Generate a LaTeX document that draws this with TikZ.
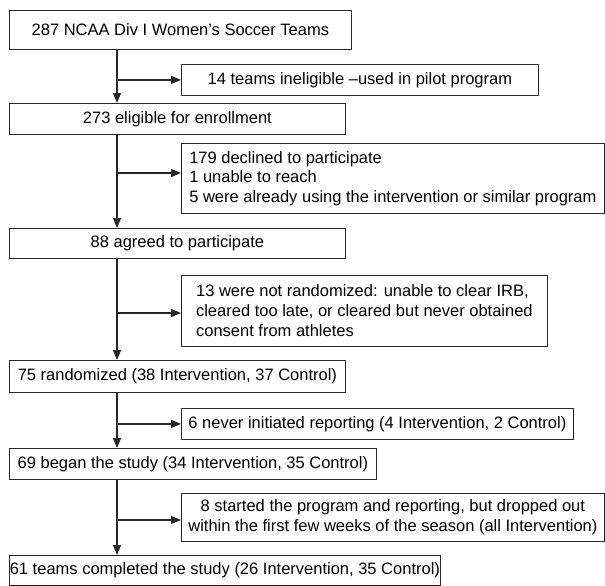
\documentclass[tikz,border=0pt]{standalone}
\usepackage{fontspec}
\setmainfont{Liberation Sans}
\usetikzlibrary{arrows.meta}

\begin{document}
\begin{tikzpicture}[x=1pt,y=-1pt,
    box/.style={draw=black!85,line width=0.8pt,anchor=north west,inner sep=0pt,
      font=\fontsize{16.5}{19.5}\selectfont},
    flow/.style={draw=black!85,line width=1.3pt,-{Triangle[length=10pt,width=8pt]}}]
      \useasboundingbox (0,0) rectangle (605,586);
      \node[box,minimum width=342,minimum height=39,align=center] (top) at (9,10) {287 NCAA Div I Women’s Soccer Teams};
      \node[box,minimum width=357,minimum height=31,align=center] (pilot) at (181,64) {14 teams ineligible –used in pilot program};
      \node[box,minimum width=336,minimum height=31,align=center] (elig) at (9,103) {273 eligible for enrollment};
      \node[box,minimum width=423,minimum height=70,align=left] (declined) at (181,143) {179 declined to participate\\1 unable to reach\\5 were already using the intervention or similar program};
      \node[box,minimum width=336,minimum height=30,align=center] (agreed) at (9,228) {88 agreed to participate};
      \node[box,minimum width=366,minimum height=71,align=left,font=\fontsize{16.5}{20}\selectfont] (notrand) at (181,275) {13 were not randomized: unable to clear IRB,\\cleared too late, or cleared but never obtained\\consent from athletes};
      \node[box,minimum width=336,minimum height=32,align=center] (rand) at (9,360) {75 randomized (38 Intervention, 37 Control)};
      \node[box,minimum width=392,minimum height=31,align=center] (never) at (181,408) {6 never initiated reporting (4 Intervention, 2 Control)};
      \node[box,minimum width=367,minimum height=31,align=center] (began) at (9,448) {69 began the study (34 Intervention, 35 Control)};
      \node[box,minimum width=423,minimum height=48,align=center] (dropped) at (181,493) {8 started the program and reporting, but dropped out\\within the first few weeks of the season (all Intervention)};
      \node[box,minimum width=431,minimum height=30,align=center] (completed) at (9,555) {61 teams completed the study (26 Intervention, 35 Control)};
      % spine of the flow chart, and the points where the side arrows leave it
      \coordinate (spine) at (117,0);
      \coordinate (branchdeclined) at (117,173);
      \coordinate (branchnotrand) at (117,313);
      \coordinate (branchdropped) at (117,520);
      \draw[flow] (spine |- top.south) -- (spine |- elig.north);
      \draw[flow] (spine |- pilot.west) -- (pilot.west);
      \draw[flow] (spine |- elig.south) -- (spine |- agreed.north);
      \draw[flow] (branchdeclined) -- (branchdeclined -| declined.west);
      \draw[flow] (spine |- agreed.south) -- (spine |- rand.north);
      \draw[flow] (branchnotrand) -- (branchnotrand -| notrand.west);
      \draw[flow] (spine |- rand.south) -- (spine |- began.north);
      \draw[flow] (spine |- never.west) -- (never.west);
      \draw[flow] (spine |- began.south) -- (spine |- completed.north);
      \draw[flow] (branchdropped) -- (branchdropped -| dropped.west);
    \end{tikzpicture}
\end{document}
